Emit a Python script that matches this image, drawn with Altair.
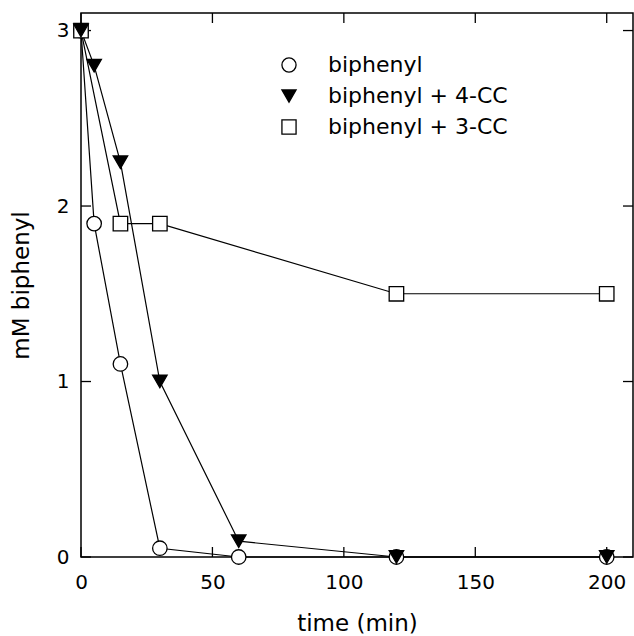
import altair as alt
import pandas as pd

# ---- data ----
series_names = ["biphenyl", "biphenyl + 4-CC", "biphenyl + 3-CC"]
draw_order = ["biphenyl", "biphenyl + 3-CC", "biphenyl + 4-CC"]

t_biphenyl = [0, 5, 15, 30, 60, 120, 200]
c_biphenyl = [3.0, 1.9, 1.1, 0.05, 0.0, 0.0, 0.0]

t_4cc = [0, 5, 15, 30, 60, 120, 200]
c_4cc = [3.0, 2.8, 2.25, 1.0, 0.09, 0.0, 0.0]

t_3cc = [0, 15, 30, 120, 200]
c_3cc = [3.0, 1.9, 1.9, 1.5, 1.5]

x_ticks = [0, 50, 100, 150, 200]
y_ticks = [0, 1, 2, 3]

rows = []
for name, ts, cs in [(series_names[0], t_biphenyl, c_biphenyl),
                     (series_names[1], t_4cc, c_4cc),
                     (series_names[2], t_3cc, c_3cc)]:
    for t, c in zip(ts, cs):
        rows.append({"time": t, "conc": c, "series": name,
                     "order": draw_order.index(name)})
df = pd.DataFrame(rows)

W, H = 552, 544
FONT = "DejaVu Sans"
TICK = 10

xscale = alt.Scale(domain=[0, 210], nice=False, zero=False)
yscale = alt.Scale(domain=[0, 3.1], nice=False, zero=False)

x_enc = alt.X("time:Q", scale=xscale,
              axis=alt.Axis(values=x_ticks, title="time (min)", domain=False,
                            ticks=False, tickSize=0, grid=False, format="d",
                            labelFont=FONT, labelFontSize=20, labelColor="black",
                            labelPadding=15, labelFlush=False,
                            titleFont=FONT, titleFontSize=23, titleFontWeight="normal",
                            titleColor="black", titleY=73, titleBaseline="alphabetic"))
y_enc = alt.Y("conc:Q", scale=yscale,
              axis=alt.Axis(values=y_ticks, title="mM biphenyl", domain=False,
                            ticks=False, tickSize=0, grid=False, format="d",
                            labelFont=FONT, labelFontSize=20, labelColor="black",
                            labelPadding=12, labelFlush=False,
                            titleFont=FONT, titleFontSize=23, titleFontWeight="normal",
                            titleColor="black", titleX=-53, titleBaseline="alphabetic"))

leg = alt.Legend(title=None)

lines = alt.Chart(df).mark_line(color="black", strokeWidth=1.2).encode(
    x=x_enc, y=y_enc, detail="series:N", order="time:Q"
)

points = alt.Chart(df).mark_point(filled=True, strokeWidth=1.3,
                                  opacity=1, size=210).encode(
    x=alt.X("time:Q", scale=xscale),
    y=alt.Y("conc:Q", scale=yscale),
    shape=alt.Shape("series:N",
                    scale=alt.Scale(domain=series_names,
                                    range=["circle", "triangle-down", "square"]),
                    legend=leg),
    fill=alt.Fill("series:N",
                  scale=alt.Scale(domain=series_names,
                                  range=["white", "black", "white"]),
                  legend=leg),
    stroke=alt.Stroke("series:N",
                      scale=alt.Scale(domain=series_names,
                                      range=["black", "black", "black"]),
                      legend=leg),
    order=alt.Order("order:Q"),
)

xt = pd.DataFrame({"v": x_ticks})
yt = pd.DataFrame({"v": y_ticks})

xb = alt.Chart(xt).mark_rule(color="black", strokeWidth=1.3).encode(
    x=alt.X("v:Q", scale=xscale), y=alt.value(H), y2=alt.value(H - TICK))
xtop = alt.Chart(xt).mark_rule(color="black", strokeWidth=1.3).encode(
    x=alt.X("v:Q", scale=xscale), y=alt.value(0), y2=alt.value(TICK))
yl = alt.Chart(yt).mark_rule(color="black", strokeWidth=1.3).encode(
    y=alt.Y("v:Q", scale=yscale), x=alt.value(0), x2=alt.value(TICK))
yr = alt.Chart(yt).mark_rule(color="black", strokeWidth=1.3).encode(
    y=alt.Y("v:Q", scale=yscale), x=alt.value(W), x2=alt.value(W - TICK))

chart = alt.layer(lines, xb, xtop, yl, yr, points).properties(
    width=W, height=H,
    autosize=alt.AutoSizeParams(type="none"),
    padding={"left": 81, "top": 13, "right": 1, "bottom": 79},
    background="white",
).configure_view(
    stroke="black", strokeWidth=1.5
).configure_legend(
    orient="none", legendX=197, legendY=41,
    labelFont=FONT, labelFontSize=22, labelColor="black", labelLimit=400,
    labelOffset=28, rowPadding=9, padding=0,
    symbolStrokeWidth=1.3, symbolSize=200,
)

chart.save("out.html", embed_options={"renderer": "svg", "actions": False})
